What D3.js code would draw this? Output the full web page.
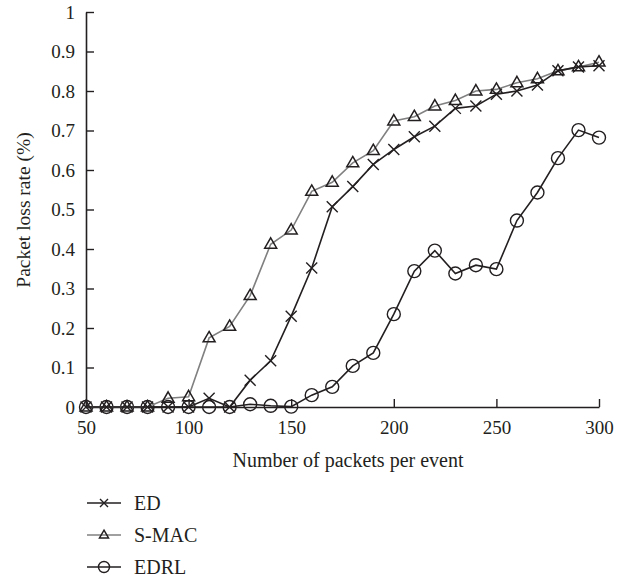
<!DOCTYPE html>
<html>
<head>
<meta charset="utf-8">
<script src="https://cdn.jsdelivr.net/npm/d3@7"></script>
<style>
  body { margin: 0; background: #fff; }
  svg text { font-family: "Liberation Serif", "DejaVu Serif", serif; fill: #231f20; }
</style>
</head>
<body>
<svg id="chart"></svg>
<script>
// data
var packets = [50, 60, 70, 80, 90, 100, 110, 120, 130, 140, 150, 160, 170, 180, 190, 200,
               210, 220, 230, 240, 250, 260, 270, 280, 290, 300];
var edValues = [0, 0, 0, 0, 0, 0, 0.022, 0, 0.068, 0.117, 0.23, 0.352, 0.507, 0.558, 0.614, 0.652,
                0.684, 0.711, 0.756, 0.762, 0.792, 0.80, 0.815, 0.851, 0.861, 0.864];
var smacValues = [0, 0, 0, 0, 0.022, 0.026, 0.175, 0.204, 0.282, 0.412, 0.448, 0.546, 0.569, 0.618, 0.649, 0.724,
                  0.735, 0.762, 0.776, 0.80, 0.804, 0.821, 0.831, 0.851, 0.861, 0.873];
var edrlValues = [0, 0, 0, 0, 0, 0, 0, 0, 0.007, 0.003, 0.001, 0.030, 0.051, 0.104, 0.137, 0.235,
                  0.344, 0.396, 0.338, 0.359, 0.349, 0.472, 0.543, 0.63, 0.701, 0.682];
var xTicks = [50, 100, 150, 200, 250, 300];
var yTicks = [0, 0.1, 0.2, 0.3, 0.4, 0.5, 0.6, 0.7, 0.8, 0.9, 1];
var seriesNames = ['ED', 'S-MAC', 'EDRL'];

var canvasWidth = 627;
var canvasHeight = 578;
var margin = { top: 12, right: 28, bottom: 171, left: 86 };
var width = canvasWidth - margin.left - margin.right;
var height = canvasHeight - margin.top - margin.bottom;

var svg = d3.select('#chart')
  .attr('width', canvasWidth)
  .attr('height', canvasHeight);

var g = svg.append('g')
  .attr('transform', 'translate(' + margin.left + ',' + margin.top + ')');

var xScale = d3.scaleLinear().domain([50, 300]).range([0, width]);
var yScale = d3.scaleLinear().domain([0, 1]).range([height, 0]);

// axes, ticks point inward
var xAxis = g.append('g')
  .attr('transform', 'translate(0,' + height + ')')
  .call(d3.axisBottom(xScale).tickValues(xTicks).tickSize(-8).tickSizeOuter(0).tickPadding(14)
    .tickFormat(d3.format('d')));
var yAxis = g.append('g')
  .call(d3.axisLeft(yScale).tickValues(yTicks).tickSize(-8).tickSizeOuter(0).tickPadding(11)
    .tickFormat(function(d) { return d === 0 ? '0' : (d === 1 ? '1' : d3.format('.1f')(d)); }));

[xAxis, yAxis].forEach(function(a) {
  a.select('.domain').attr('stroke', '#231f20').attr('stroke-width', 1.6);
  a.selectAll('.tick line').attr('stroke', '#231f20').attr('stroke-width', 1.4);
  a.selectAll('.tick text').style('font-size', '19px').attr('fill', '#231f20');
});

// axis titles
svg.append('text')
  .attr('x', 348)
  .attr('y', 467)
  .attr('text-anchor', 'middle')
  .style('font-size', '20px')
  .text('Number of packets per event');

svg.append('text')
  .attr('transform', 'translate(30,210) rotate(-90)')
  .attr('text-anchor', 'middle')
  .style('font-size', '19.5px')
  .text('Packet loss rate (%)');

// markers
function crossPath(s) {
  return 'M' + (-s) + ',' + (-s) + 'L' + s + ',' + s + 'M' + (-s) + ',' + s + 'L' + s + ',' + (-s);
}
function triPath(s) {
  var h = s * 1.732;
  return 'M0,' + (-h * 0.62) + 'L' + s + ',' + (h * 0.38) + 'L' + (-s) + ',' + (h * 0.38) + 'Z';
}

var series = [
  { name: 'ED', values: edValues, line: '#231f20', marker: 'cross' },
  { name: 'S-MAC', values: smacValues, line: '#808080', marker: 'tri' },
  { name: 'EDRL', values: edrlValues, line: '#231f20', marker: 'circle' }
];

var line = d3.line()
  .x(function(d, i) { return xScale(packets[i]); })
  .y(function(d) { return yScale(d); });

function drawMarker(sel, type, big) {
  if (type === 'circle') {
    sel.append('circle').attr('r', big ? 6.5 : 5.5)
      .attr('fill', 'none').attr('stroke', '#231f20').attr('stroke-width', 1.4);
  } else if (type === 'tri') {
    sel.append('path').attr('d', triPath(big ? 6 : 4.5))
      .attr('fill', 'none').attr('stroke', '#231f20').attr('stroke-width', 1.5);
  } else {
    sel.append('path').attr('d', crossPath(big ? 5.5 : 4))
      .attr('fill', 'none').attr('stroke', '#231f20').attr('stroke-width', 1.4);
  }
}

// draw order: EDRL, S-MAC, ED
[2, 1, 0].forEach(function(k) {
  var s = series[k];
  g.append('path')
    .datum(s.values)
    .attr('fill', 'none')
    .attr('stroke', s.line)
    .attr('stroke-width', 1.6)
    .attr('d', line);
  g.selectAll('.m' + k)
    .data(s.values)
    .enter()
    .append('g')
    .attr('class', 'm' + k)
    .attr('transform', function(d, i) { return 'translate(' + xScale(packets[i]) + ',' + yScale(d) + ')'; })
    .each(function() { drawMarker(d3.select(this), s.marker, true); });
});

// legend
var legend = svg.append('g').attr('transform', 'translate(87,503)');
series.forEach(function(s, i) {
  var row = legend.append('g').attr('transform', 'translate(0,' + (i * 32) + ')');
  row.append('line').attr('x1', 0).attr('x2', 34).attr('y1', 0).attr('y2', 0)
    .attr('stroke', s.line).attr('stroke-width', 1.6);
  drawMarker(row.append('g').attr('transform', 'translate(17,0)'), s.marker, false);
  row.append('text').attr('x', 47).attr('y', 6.5)
    .style('font-size', '20px')
    .text(seriesNames[i]);
});
</script>
</body>
</html>
